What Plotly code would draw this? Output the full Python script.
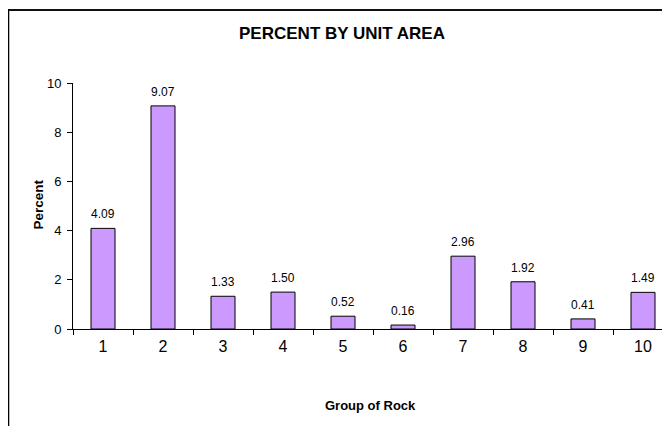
import plotly.graph_objects as go

categories = ["1", "2", "3", "4", "5", "6", "7", "8", "9", "10"]
percent = [4.09, 9.07, 1.33, 1.50, 0.52, 0.16, 2.96, 1.92, 0.41, 1.49]
y_ticks = [0, 2, 4, 6, 8, 10]

FONT = "Arial, Liberation Sans, sans-serif"

fig = go.Figure()
fig.add_trace(go.Bar(
    x=categories, y=percent, width=0.4,
    marker=dict(color="#CC99FF", line=dict(color="#000000", width=1)),
    hoverinfo="x+y",
))

for i, v in enumerate(percent):
    fig.add_annotation(x=i, y=v, text=f"{v:.2f}", showarrow=False,
                       xref="x", yref="y", yanchor="middle", yshift=14,
                       font=dict(family=FONT, size=12, color="#000000"))

fig.add_annotation(text="<b>Percent</b>", xref="paper", yref="paper",
                   x=-0.0737, y=0.504, textangle=-90, showarrow=False,
                   font=dict(family=FONT, size=13.5, color="#000000"))
fig.add_annotation(text="<b>Group of Rock</b>", xref="paper", yref="paper",
                   x=0.499, y=-0.35, showarrow=False,
                   font=dict(family=FONT, size=13, color="#000000"))

# chart frame: left edge and top edge (right and bottom lie outside the view)
frame_left = -0.108
fig.add_shape(type="line", xref="paper", yref="paper",
              x0=frame_left, x1=frame_left, y0=-0.45, y1=1.3008,
              line=dict(color="#000000", width=1.5), layer="above")
fig.add_shape(type="rect", xref="paper", yref="paper",
              x0=frame_left, x1=0.995, y0=1.2927, y1=1.3008,
              line=dict(width=0), fillcolor="#111111", layer="above")

fig.update_layout(
    width=670, height=426,
    margin=dict(l=65, r=8, t=75, b=105),
    paper_bgcolor="#FFFFFF", plot_bgcolor="#FFFFFF",
    showlegend=False,
    title=dict(text="<b>PERCENT BY UNIT AREA</b>", xref="container", yref="container",
               x=0.4985, y=1 - 25 / 426, xanchor="center", yanchor="middle",
               font=dict(family=FONT, size=17, color="#000000")),
    xaxis=dict(type="category", range=[-0.5, 9.45], showgrid=False,
               showline=True, linecolor="#000000", linewidth=1,
               ticks="outside", tickson="boundaries", ticklen=5, tickcolor="#000000",
               tickfont=dict(family=FONT, size=16, color="#000000"),
               ticklabelstandoff=3, zeroline=False),
    yaxis=dict(range=[0, 10], tickvals=y_ticks, showgrid=False,
               showline=True, linecolor="#000000", linewidth=1,
               ticks="outside", ticklen=5, tickcolor="#000000",
               tickfont=dict(family=FONT, size=13, color="#000000"),
               ticklabelstandoff=3, zeroline=False),
)

fig.write_html("out.html")
